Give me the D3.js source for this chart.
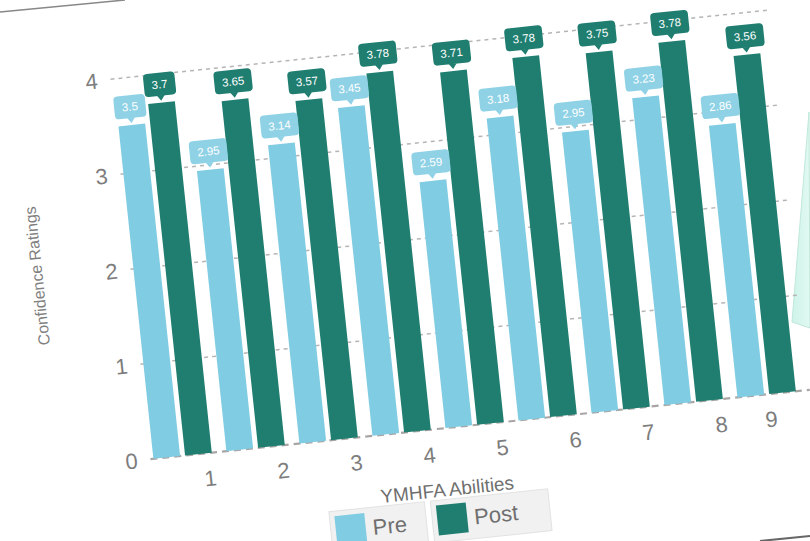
<!DOCTYPE html>
<html>
<head>
<meta charset="utf-8">
<script src="https://cdn.jsdelivr.net/npm/d3@7"></script>
<style>
  body { margin: 0; background: #fff; }
  svg { display: block; font-family: "Liberation Sans", Arial, sans-serif; }
</style>
</head>
<body>
<svg id="svg"></svg>
<script>
const WIDTH = 810, HEIGHT = 541;

// data
const abilities = ['1', '2', '3', '4', '5', '6', '7', '8', '9'];
const preValues = [3.5, 2.95, 3.14, 3.45, 2.59, 3.18, 2.95, 3.23, 2.86];
const postValues = [3.7, 3.65, 3.57, 3.78, 3.71, 3.78, 3.75, 3.78, 3.56];
const yTicks = [0, 1, 2, 3, 4];
const seriesNames = ['Pre', 'Post'];

const PRE = '#80cce2', POST = '#1f7e70';
const colors = [PRE, POST];

const svg = d3.select('#svg').attr('width', WIDTH).attr('height', HEIGHT);

// paper edge top-left and bottom-right (photo artefacts)
svg.append('line').attr('x1', 0).attr('y1', 12).attr('x2', 125).attr('y2', 0)
    .attr('stroke', '#888').attr('stroke-width', 1.5);
svg.append('line').attr('x1', 760).attr('y1', 541).attr('x2', 810).attr('y2', 536)
    .attr('stroke', '#666').attr('stroke-width', 2);

// the mint panel peeking on the right
const grad = svg.append('defs').append('linearGradient').attr('id', 'mint')
    .attr('x1', 0).attr('x2', 1).attr('y1', 0).attr('y2', 0);
grad.append('stop').attr('offset', 0).attr('stop-color', '#cdf3e9');
grad.append('stop').attr('offset', 1).attr('stop-color', '#e2f9f3');
svg.append('path').attr('d', 'M809,112 L792,322 L810,328 Z')
    .attr('fill', 'url(#mint)').attr('stroke', '#bfe8da').attr('stroke-width', 1);

// whole chart photographed at a slight tilt
const chart = svg.append('g').attr('transform', 'rotate(-6,400,270)');

const plot = {left: 132, right: 795, top: 50, bottom: 432};

const x = d3.scaleBand().domain(abilities).range([135, 781]).paddingInner(0.2).paddingOuter(0);
const y = d3.scaleLinear().domain([0, 4]).range([plot.bottom, plot.top]);

const gap = 5;
const bw = (x.bandwidth() - gap) / 2;

// grid
chart.append('g').selectAll('line').data(yTicks).join('line')
    .attr('x1', plot.left).attr('x2', plot.right)
    .attr('y1', d => y(d)).attr('y2', d => y(d))
    .attr('stroke', d => d === 0 ? '#a9a5a5' : '#b5b5b5')
    .attr('stroke-width', d => d === 0 ? 2.2 : 1.5)
    .attr('stroke-dasharray', d => d === 0 ? '7,5' : '4,4');

// y tick labels
chart.append('g').selectAll('text').data(yTicks).join('text')
    .attr('x', 113).attr('y', d => y(d)).attr('dy', '0.36em')
    .attr('text-anchor', 'middle').attr('font-size', 22).attr('fill', '#7d7d7d')
    .text(d => d);

// y title
chart.append('text').attr('transform', 'translate(44,238) rotate(-90)')
    .attr('text-anchor', 'middle').attr('font-size', 16).attr('fill', '#808080')
    .text('Confidence Ratings');

// bars
const rows = abilities.map((a, i) => ({a, vals: [preValues[i], postValues[i]]}));
const groups = chart.append('g').selectAll('g').data(rows).join('g')
    .attr('transform', d => 'translate(' + x(d.a) + ',0)');

groups.selectAll('rect').data(d => d.vals).join('rect')
    .attr('x', (v, j) => j * (bw + gap)).attr('width', bw)
    .attr('y', v => y(v)).attr('height', v => y(0) - y(v))
    .attr('fill', (v, j) => colors[j]);

// callout labels
const callouts = groups.selectAll('g.call').data(d => d.vals).join('g').attr('class', 'call')
    .attr('transform', (v, j) => 'translate(' + (j * (bw + gap) + bw / 2) + ',' + (y(v) - 2) + ')');
callouts.each(function(v, j) {
    const g = d3.select(this);
    const txt = String(v);
    const w = txt.length * 6.2 + 13, h = 23, p = 5;
    const fill = j === 0 ? '#8fd2e6' : POST;
    g.append('rect').attr('x', -w / 2).attr('y', -h - p).attr('width', w).attr('height', h)
        .attr('rx', 4).attr('fill', fill);
    g.append('path').attr('d', 'M-4,' + (-p - 0.5) + ' L0,0 L4,' + (-p - 0.5) + ' Z').attr('fill', fill);
    g.append('text').attr('x', 0).attr('y', -p - h / 2).attr('dy', '0.36em')
        .attr('text-anchor', 'middle').attr('font-size', 11.5).attr('fill', '#fff')
        .text(txt);
});

// x tick labels (sit at the right end of each group)
chart.append('g').selectAll('text').data(abilities).join('text')
    .attr('x', d => Math.min(x(d) + x.bandwidth() - 4, plot.right - 41))
    .attr('y', 457).attr('dy', '0.36em')
    .attr('text-anchor', 'middle').attr('font-size', 22).attr('fill', '#7d7d7d')
    .text(d => d);

// x title
chart.append('text').attr('x', 424).attr('y', 493).attr('dy', '0.36em')
    .attr('text-anchor', 'middle').attr('font-size', 19).attr('fill', '#6f6f6f')
    .text('YMHFA Abilities');

// legend
const legendX = [304, 406], legendW = [96, 118];
const legend = chart.append('g').selectAll('g').data(seriesNames).join('g')
    .attr('transform', (d, i) => 'translate(' + legendX[i] + ',503)');
legend.append('rect').attr('width', (d, i) => legendW[i]).attr('height', 42)
    .attr('fill', '#f1f1f1').attr('stroke', '#e2e2e2');
legend.append('rect').attr('x', 5).attr('y', 5).attr('width', 30).attr('height', 30)
    .attr('fill', (d, i) => colors[i]);
legend.append('text').attr('x', 42).attr('y', 20).attr('dy', '0.36em')
    .attr('font-size', 22).attr('fill', '#6f6f6f').text(d => d);
</script>
</body>
</html>
